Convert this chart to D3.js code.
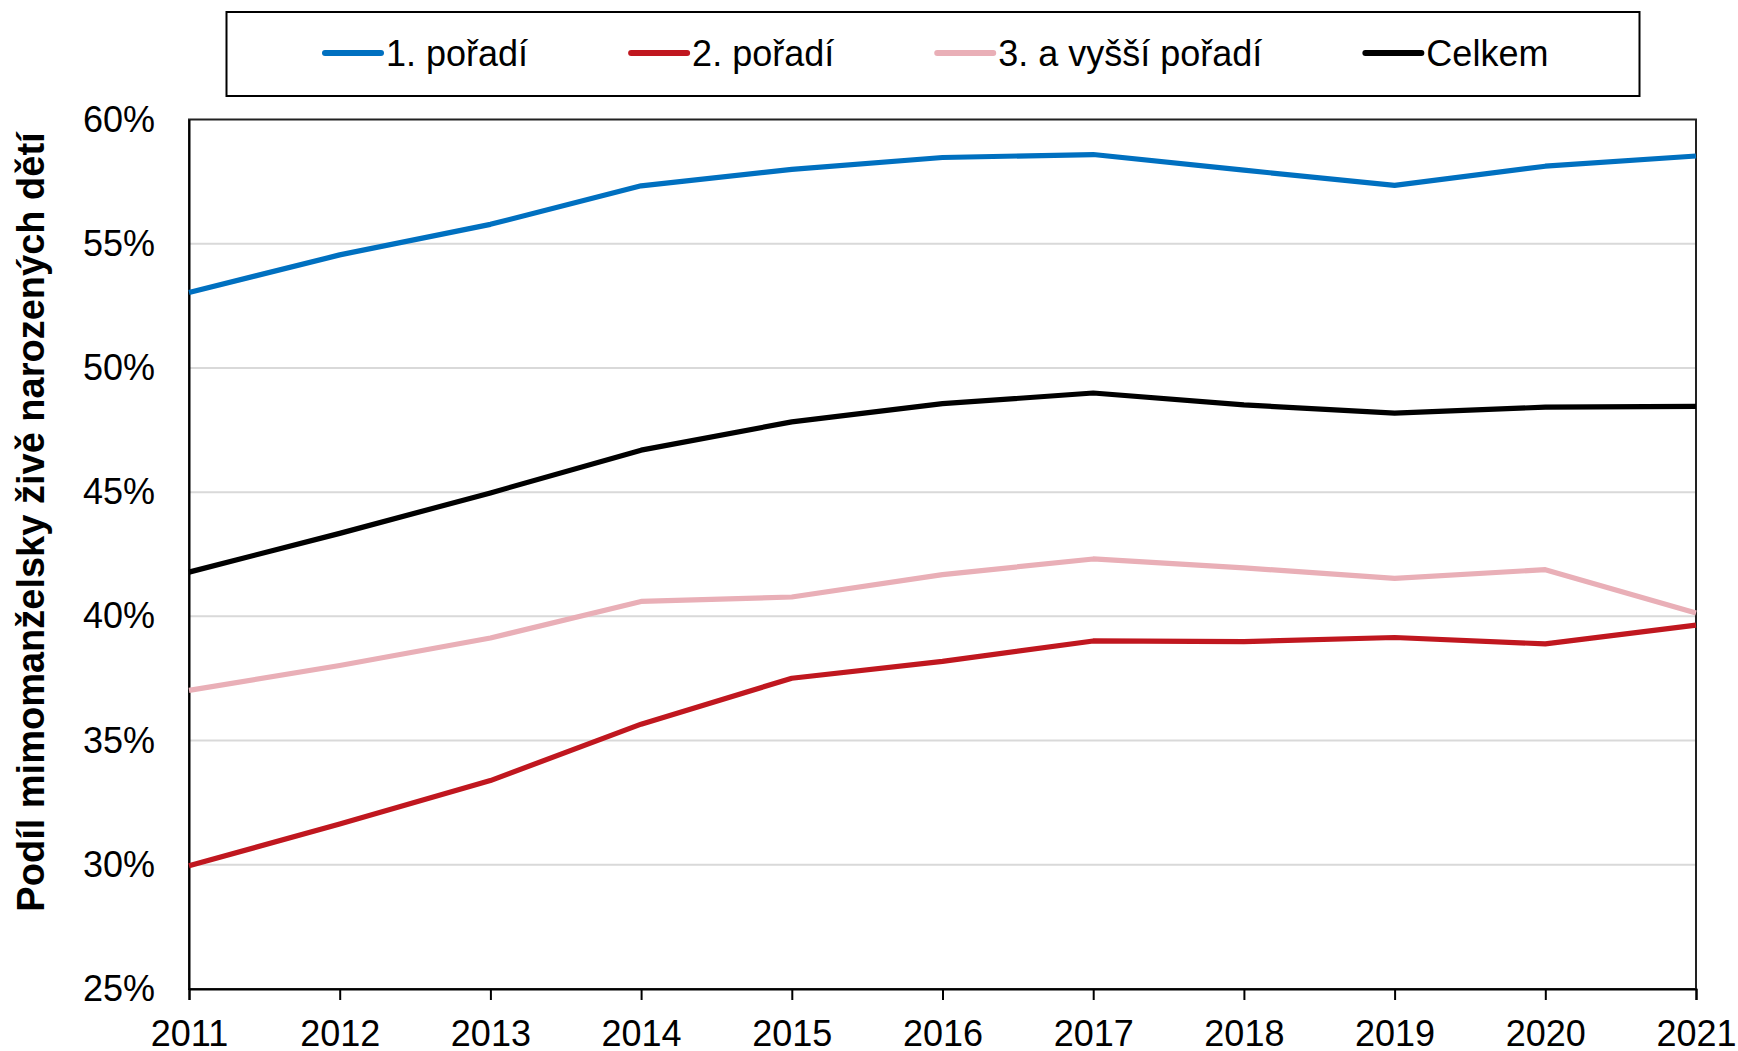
<!DOCTYPE html>
<html>
<head>
<meta charset="utf-8">
<script src="https://cdn.jsdelivr.net/npm/d3@7"></script>
<style>
  body { margin: 0; background: #fff; }
  text { font-family: Arial, "Liberation Sans", sans-serif; }
</style>
</head>
<body>
<div id="chart"></div>
<script>
const years = [2011, 2012, 2013, 2014, 2015, 2016, 2017, 2018, 2019, 2020, 2021]
const first  = [53.04, 54.55, 55.78, 57.33, 57.99, 58.47, 58.59, 57.96, 57.35, 58.12, 58.53]
const second = [29.96, 31.64, 33.39, 35.66, 37.51, 38.19, 39.01, 38.98, 39.15, 38.89, 39.65]
const third  = [37.02, 38.02, 39.13, 40.60, 40.78, 41.68, 42.31, 41.95, 41.53, 41.88, 40.14]
const total  = [41.78, 43.34, 44.97, 46.69, 47.83, 48.56, 48.99, 48.51, 48.18, 48.42, 48.45]
const seriesNames = ["1. pořadí", "2. pořadí", "3. a vyšší pořadí", "Celkem"]
const yTicks = [25, 30, 35, 40, 45, 50, 55, 60]
const yLabel = "Podíl mimomanželsky živě narozených dětí"

const colors = ["#0070c0", "#c0171f", "#e9afb7", "#000000"]
const seriesValues = [first, second, third, total]
// draw order: pink, red, black, blue on top
const drawOrder = [2, 1, 3, 0]

const W = 1738, H = 1051
const margin = {top: 119.5, right: 42, bottom: 62, left: 189},
      width  = W - margin.left - margin.right,
      height = H - margin.top - margin.bottom

const svg = d3.select("#chart")
  .append("svg")
    .attr("width", W)
    .attr("height", H)

const g = svg.append("g")
  .attr("transform", "translate(" + margin.left + "," + margin.top + ")")

const x = d3.scaleLinear().domain([years[0], years[years.length-1]]).range([0, width])
const y = d3.scaleLinear().domain([25, 60]).range([height, 0])

//grid
g.selectAll(null)
  .data(yTicks.filter(d => d > 25 && d < 60))
  .enter()
  .append("line")
  .attr("x1", 0)
  .attr("x2", width)
  .attr("y1", d => y(d))
  .attr("y2", d => y(d))
  .style("stroke", "#d9d9d9")
  .style("stroke-width", 2)

//frame
g.append("rect")
  .attr("x", 0).attr("y", 0)
  .attr("width", width).attr("height", height)
  .style("fill", "none")
  .style("stroke", "#222")
  .style("stroke-width", 2)

//y axis
const yAxis = g.append("g")
  .call(d3.axisLeft(y)
    .tickValues(yTicks)
    .tickSize(0)
    .tickPadding(34)
    .tickFormat(d => d + "%"))
yAxis.select(".domain").style("stroke", "#000").style("stroke-width", 2)
yAxis.selectAll("text").style("font-size", "36px").style("fill", "#000")

//x axis
const xAxis = g.append("g")
  .attr("transform", "translate(0," + height + ")")
  .call(d3.axisBottom(x)
    .tickValues(years)
    .tickSize(11)
    .tickPadding(20)
    .tickFormat(d3.format("d")))
xAxis.select(".domain").style("stroke", "#000").style("stroke-width", 2)
xAxis.selectAll(".tick line").style("stroke", "#000").style("stroke-width", 2)
xAxis.selectAll("text").style("font-size", "36px").style("fill", "#000")

//y label
svg.append("text")
  .attr("transform", "translate(44," + 522 + ") rotate(-90)")
  .attr("text-anchor", "middle")
  .style("font-size", "38px")
  .style("font-weight", "bold")
  .text(yLabel)

//lines
const line = d3.line()
  .x((d, i) => x(years[i]))
  .y(d => y(d))

g.selectAll(null)
  .data(drawOrder)
  .enter()
  .append("path")
  .attr("d", k => line(seriesValues[k]))
  .style("fill", "none")
  .style("stroke", k => colors[k])
  .style("stroke-width", 5.2)
  .style("stroke-linejoin", "round")

//legend
svg.append("rect")
  .attr("x", 226.5).attr("y", 12)
  .attr("width", 1413).attr("height", 84)
  .style("fill", "#fff")
  .style("stroke", "#000")
  .style("stroke-width", 2)

let lx = 325
seriesNames.forEach((name, i) => {
  const item = svg.append("g").attr("transform", "translate(" + lx + ",53)")
  item.append("line")
    .attr("x1", 0).attr("x2", 56)
    .style("stroke", colors[i])
    .style("stroke-width", 6)
    .style("stroke-linecap", "round")
  const t = item.append("text")
    .attr("x", 61)
    .attr("dy", "0.35em")
    .style("font-size", "36px")
    .text(name)
  lx += 61 + t.node().getComputedTextLength() + 103
})
</script>
</body>
</html>
